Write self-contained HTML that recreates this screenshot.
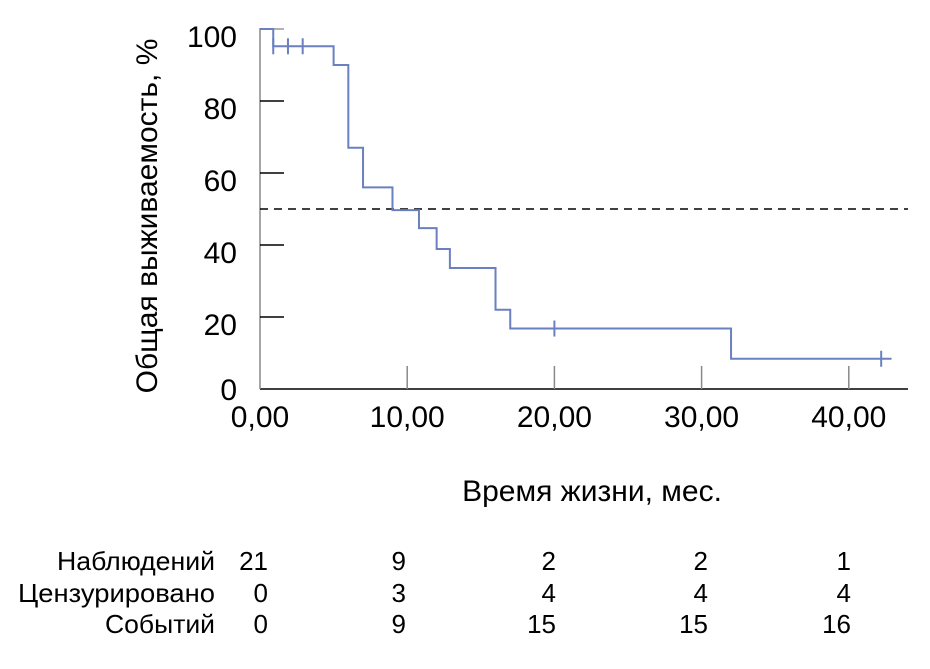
<!DOCTYPE html>
<html><head><meta charset="utf-8"><style>
body{margin:0;background:#fff;width:930px;height:664px;overflow:hidden}
svg{font-family:"Liberation Sans",sans-serif}
</style></head><body>
<svg id="chart" width="930" height="664" viewBox="0 0 930 664">
<g id="axes"></g><g id="curve"></g><g id="table"></g>
</svg>
<script>
const stepTimes=[0,0.9,5,6,7,9,10.8,12,12.9,16,17,32,42.9];
const stepSurv=[100,95.2,90,67,56,49.7,44.7,38.9,33.6,22,16.8,8.4,8.4];
const censorTimes=[0.9,1.9,2.9,20,42.2];
const censorSurv=[95.2,95.2,95.2,16.8,8.4];
const xTicks=[0,10,20,30,40];
const xTickLabels=["0,00","10,00","20,00","30,00","40,00"];
const yTicks=[0,20,40,60,80,100];
const rowLabels=["Наблюдений","Цензурировано","Событий"];
const atRisk=[21,9,2,2,1];
const censored=[0,3,4,4,4];
const events=[0,9,15,15,16];
const NS="http://www.w3.org/2000/svg";
const X=t=>260+t*14.72, Y=v=>389-v*3.6;
function mk(tag,attrs,parent,text){const e=document.createElementNS(NS,tag);for(const k in attrs)e.setAttribute(k,attrs[k]);if(text!==undefined)e.textContent=text;parent.appendChild(e);return e;}
const ax=document.getElementById('axes'),cv=document.getElementById('curve'),tb=document.getElementById('table');
let e=mk('line',{x1:260,y1:389,x2:908,y2:389,stroke:'#000','stroke-width':1.5},ax);


e=mk('line',{x1:260,y1:28,x2:260,y2:389,stroke:'#888','stroke-width':1.5},ax);


yTicks.forEach(v=>{
 if(v>0){e=mk('line',{x1:260,y1:Y(v),x2:284,y2:Y(v),stroke:v==100?'#999':'#000','stroke-width':1.5},ax);
 
 }
 e=mk('text',{x:237,y:Y(v)+(v==0?11:18),'font-size':30,'text-anchor':'end'},ax,String(v));
 
 
});
xTicks.forEach((t,i)=>{
 if(t>0){e=mk('line',{x1:X(t),y1:366,x2:X(t),y2:389,stroke:'#888','stroke-width':1.5},ax);
 
 }
 e=mk('text',{x:X(t),y:427,'font-size':30,'text-anchor':'middle'},ax,xTickLabels[i]);
 
 
});
e=mk('line',{x1:260,y1:Y(50),x2:908,y2:Y(50),stroke:'#000','stroke-width':1.5,'stroke-dasharray':'8,6'},ax);


e=mk('text',{x:592,y:501,'font-size':30,'text-anchor':'middle'},ax,'Время жизни, мес.');


e=mk('text',{x:0,y:0,'font-size':30,'text-anchor':'middle',transform:'translate(157,216) rotate(-90)'},ax,'Общая выживаемость, %');


let d='M'+X(stepTimes[0])+','+Y(stepSurv[0]);
for(let i=1;i<stepTimes.length;i++){d+=' H'+X(stepTimes[i])+' V'+Y(stepSurv[i]);}
e=mk('path',{d:d,fill:'none',stroke:'#6a80c0','stroke-width':2},cv);


censorTimes.forEach((t,i)=>{
 e=mk('line',{x1:X(t),y1:Y(censorSurv[i])-8,x2:X(t),y2:Y(censorSurv[i])+8,stroke:'#6a80c0','stroke-width':2},cv);
 
 
});
const colX=[268,406,556,708,851],rowY=[570,602,633],rows=[atRisk,censored,events];
const labW=[158,197,110];
rowLabels.forEach((lab,r)=>{
 e=mk('text',{x:215,y:rowY[r],'font-size':26,'text-anchor':'end',textLength:labW[r],lengthAdjust:'spacingAndGlyphs'},tb,lab);
 
 
 rows[r].forEach((v,c)=>{
  e=mk('text',{x:colX[c],y:rowY[r],'font-size':26,'text-anchor':'end'},tb,String(v));
  
  
 });
});
</script>
</body></html>
